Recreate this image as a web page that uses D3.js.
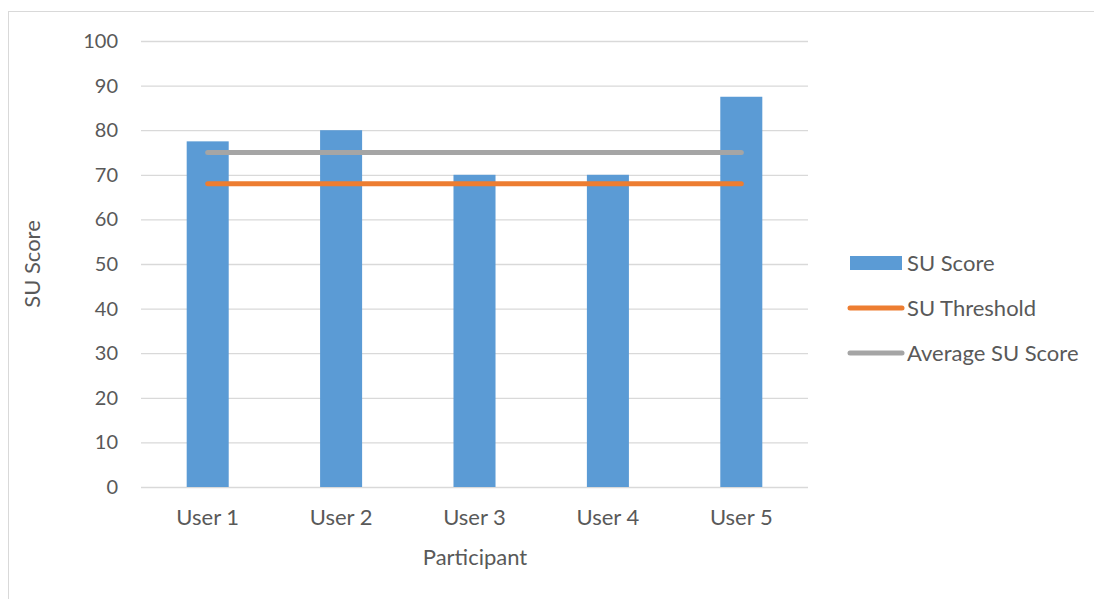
<!DOCTYPE html>
<html>
<head>
<meta charset="utf-8">
<script src="https://cdn.jsdelivr.net/npm/d3@7"></script>
<style>
  body { margin: 0; background: #fff; }
  text { font-family: Lato, "Open Sans", sans-serif; fill: #595959; }
</style>
</head>
<body>
<svg id="chart"></svg>
<script>
(function () {
var width = 1094, height = 599

// data
var users = ['User 1', 'User 2', 'User 3', 'User 4', 'User 5']
var scores = [77.5, 80, 70, 70, 87.5]
var threshold = 68
var average = 75
var yTicks = [0, 10, 20, 30, 40, 50, 60, 70, 80, 90, 100]

var blue = '#5b9bd5'
var orange = '#ed7d31'
var grey = '#a5a5a5'
var gridColor = '#d9d9d9'

var svg = d3.select('#chart')
    .attr('width', width)
    .attr('height', height)

// outer chart border
svg.append('rect')
    .attr('x', 8.5).attr('y', 11.5)
    .attr('width', width).attr('height', height)
    .attr('fill', '#fff')
    .attr('stroke', gridColor)

var plot = {left: 141, right: 808, top: 41, bottom: 487}

var x = d3.scaleBand()
    .domain(users)
    .range([plot.left, plot.right])
    .paddingInner(0.685)
    .paddingOuter(0.3425)

var y = d3.scaleLinear()
    .domain([0, 100])
    .range([plot.bottom, plot.top])

// y axis + gridlines
var yAxis = svg.append('g')
    .attr('transform', 'translate(' + plot.left + ',0)')
    .call(d3.axisLeft(y)
        .tickValues(yTicks)
        .tickSize(-(plot.right - plot.left))
        .tickPadding(23))
yAxis.select('.domain').remove()
yAxis.selectAll('line').attr('stroke', gridColor).attr('stroke-width', 1.3)
yAxis.selectAll('text')
    .style('font-size', '20px')
    .attr('fill', '#595959')

// bars
svg.selectAll('rect.bar')
    .data(scores)
    .enter()
    .append('rect')
    .attr('class', 'bar')
    .attr('x', (d, i) => x(users[i]))
    .attr('y', (d) => y(d))
    .attr('width', x.bandwidth())
    .attr('height', (d) => y(0) - y(d))
    .attr('fill', blue)

// threshold + average lines
var x0 = x(users[0]) + x.bandwidth() / 2
var x1 = x(users[users.length - 1]) + x.bandwidth() / 2
var refLines = [
    {value: threshold, color: orange},
    {value: average, color: grey},
]
svg.selectAll('line.ref')
    .data(refLines)
    .enter()
    .append('line')
    .attr('class', 'ref')
    .attr('x1', x0).attr('x2', x1)
    .attr('y1', (d) => y(d.value)).attr('y2', (d) => y(d.value))
    .attr('stroke', (d) => d.color)
    .attr('stroke-width', 5)
    .attr('stroke-linecap', 'round')

// x axis labels
var xAxis = svg.append('g')
    .attr('transform', 'translate(0,' + plot.bottom + ')')
    .call(d3.axisBottom(x).tickSize(0).tickPadding(22))
xAxis.select('.domain').remove()
xAxis.selectAll('text')
    .style('font-size', '22px')
    .attr('fill', '#595959')

// axis titles
svg.append('text')
    .attr('x', 475).attr('y', 565)
    .attr('text-anchor', 'middle')
    .style('font-size', '22px')
    .text('Participant')

svg.append('text')
    .attr('transform', 'translate(40,264) rotate(-90)')
    .attr('text-anchor', 'middle')
    .style('font-size', '22px')
    .text('SU Score')

// legend
var legend = [
    {label: 'SU Score', color: blue, type: 'bar', y: 263},
    {label: 'SU Threshold', color: orange, type: 'line', y: 308},
    {label: 'Average SU Score', color: grey, type: 'line', y: 353},
]
var lg = svg.selectAll('g.legend')
    .data(legend)
    .enter()
    .append('g')
    .attr('class', 'legend')
    .attr('transform', (d) => 'translate(850,' + d.y + ')')

lg.each(function (d) {
    var g = d3.select(this)
    if (d.type === 'bar') {
        g.append('rect')
            .attr('x', 0).attr('y', -7)
            .attr('width', 52).attr('height', 14)
            .attr('fill', d.color)
    } else {
        g.append('line')
            .attr('x1', 0).attr('x2', 52)
            .attr('stroke', d.color)
            .attr('stroke-width', 5)
            .attr('stroke-linecap', 'round')
    }
    g.append('text')
        .attr('x', 57).attr('y', 8)
        .style('font-size', '22px')
        .text(d.label)
})
})();
</script>
</body>
</html>
